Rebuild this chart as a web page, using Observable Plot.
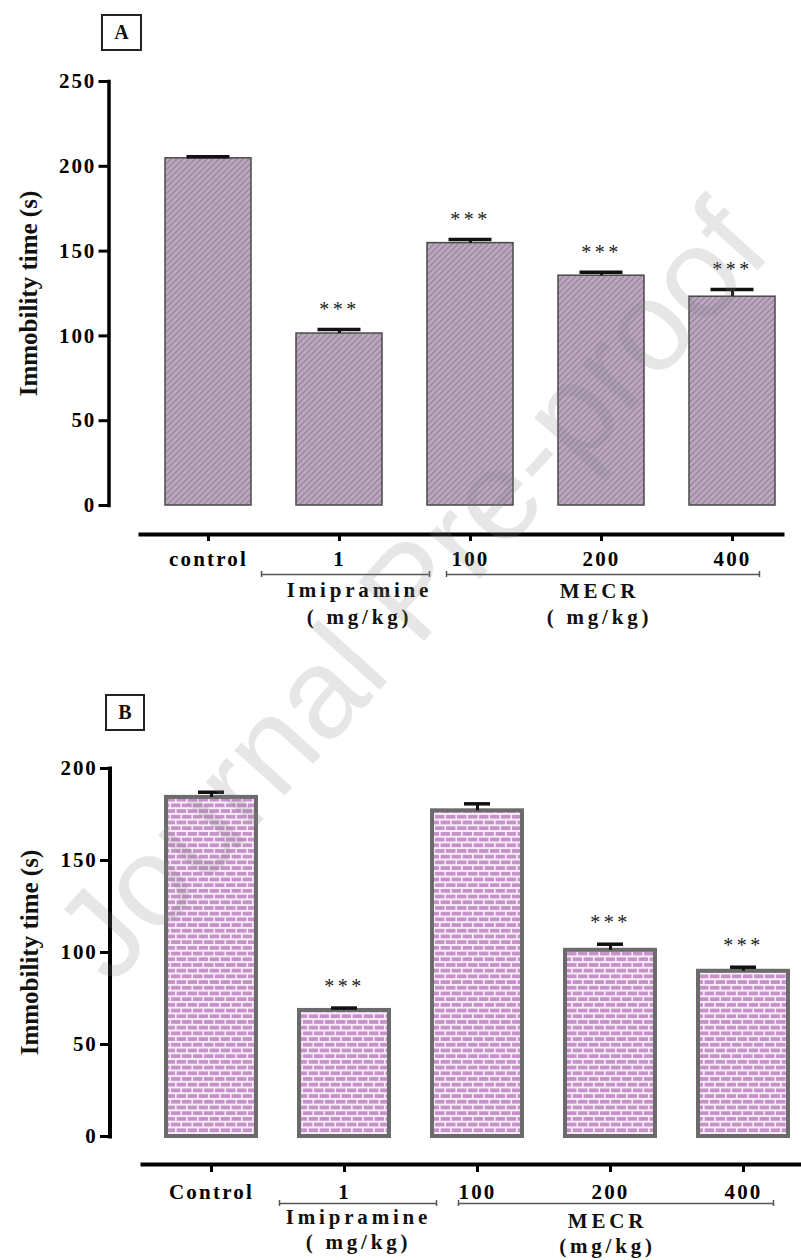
<!DOCTYPE html>
<html><head><meta charset="utf-8">
<script src="https://cdn.jsdelivr.net/npm/d3@7"></script>
<script src="https://cdn.jsdelivr.net/npm/@observablehq/plot@0.6"></script>
<style>
body{margin:0;background:#fff;}
#wrap{position:relative;width:801px;height:1260px;overflow:hidden;background:#fff;}
.panel{position:absolute;left:0;}
.tag{position:absolute;border:2px solid #222;box-sizing:border-box;display:flex;align-items:center;justify-content:center;font:bold 20px "Liberation Serif",serif;color:#111;background:#fff;}
g[aria-label="x-axis tick label"] text{letter-spacing:2.2px;}
g[aria-label="y-axis tick label"] text{letter-spacing:1.8px;}
g[aria-description="group label"] text{letter-spacing:3.8px;}
g[aria-description="significance"] text{letter-spacing:3.5px;}
#wm{position:absolute;left:0;top:0;pointer-events:none;}
</style>
</head><body>
<svg width="0" height="0" style="position:absolute">
  <defs>
    <pattern id="hatchA" patternUnits="userSpaceOnUse" width="6" height="6">
      <rect width="6" height="6" fill="#bba7be"/>
      <path d="M-1,1 l2,-2 M0,6 l6,-6 M5,7 l2,-2" stroke="#9d87a1" stroke-width="1.5"/>
    </pattern>
    <pattern id="brickB" patternUnits="userSpaceOnUse" width="11" height="11.4">
      <rect width="11" height="11.4" fill="#fbeefb"/>
      <rect x="0.6" y="1" width="9.4" height="3.7" fill="#c592c8"/>
      <rect x="-5" y="6.7" width="9.5" height="3.7" fill="#c592c8"/>
      <rect x="6" y="6.7" width="9.5" height="3.7" fill="#c592c8"/>
    </pattern>
  </defs>
</svg>
<div id="wrap">
  <div id="pA" class="panel" style="top:0"></div>
  <div id="pB" class="panel" style="top:660px"></div>
  <div class="tag" style="left:101px;top:14px;width:41px;height:37px">A</div>
  <div class="tag" style="left:105px;top:694px;width:40px;height:37px">B</div>
  <svg id="wm" width="801" height="1260">
    <text x="410" y="590" transform="rotate(-48 410 590)" text-anchor="middle" dominant-baseline="central"
      font-family="Liberation Sans, Arial, sans-serif" font-size="128" fill="#808080" fill-opacity="0.2">Journal Pre-proof</text>
  </svg>
</div>
<script>
// ---- Data: Panel A (forced swim test) ----
const groupsA = ["control", "1", "100", "200", "400"];
const meanA = [204.7, 101.4, 154.7, 135.5, 123.1];
const semA = [1.0, 2.3, 2.1, 2.1, 4.2];
const sigA = ["", "***", "***", "***", "***"];
const yTicksA = [0, 50, 100, 150, 200, 250];
const treatA = [
  {name: "Imipramine", unit: "( mg/kg)", first: "1", last: "1", anchor: "1"},
  {name: "MECR", unit: "( mg/kg)", first: "100", last: "400", anchor: "200"}
];

// ---- Data: Panel B (tail suspension test) ----
const groupsB = ["Control", "1", "100", "200", "400"];
const meanB = [184.3, 68.5, 177.0, 101.2, 89.8];
const semB = [2.8, 1.3, 3.8, 3.3, 2.2];
const sigB = ["", "***", "", "***", "***"];
const yTicksB = [0, 50, 100, 150, 200];
const treatB = [
  {name: "Imipramine", unit: "( mg/kg)", first: "1", last: "1", anchor: "1"},
  {name: "MECR", unit: "(mg/kg)", first: "100", last: "400", anchor: "200"}
];

const yTitle = "Immobility time (s)";

// ---- Layout (styles / positions only) ----
const layoutA = {
  height: 660, marginTop: 81, marginLeft: 108.5, marginRight: 19, marginBottom: 126,
  yDomain: [0, 250], yRange: [505, 81], xRange: [120, 820], padding: 0.3435,
  axisWidth: 3.5, axisGap: 29, xLineInset: 31.5, yTickSize: 10, yTickPadding: 3,
  xTickSize: 7, xTickPadding: 10, barStroke: "#4a4a4a", barStrokeWidth: 1.5,
  fill: "url(#hatchA)", capInset: 21.5, starDy: -13.5, bracketDy: 69, yTitleDx: -80,
  labelSize: 21,
  brackets: [{left: -78, right: 90, labelDx: 20, dy1: 91, dy2: 118},
             {left: -24, right: 27, labelDx: -2, dy1: 92, dy2: 118}]
};
const layoutB = {
  height: 600, marginTop: 108, marginLeft: 109.5, marginRight: 1, marginBottom: 96,
  yDomain: [0, 200], yRange: [476, 108], xRange: [121.7, 831.5], padding: 0.325,
  axisWidth: 4, axisGap: 28, xLineInset: 32.5, yTickSize: 9.5, yTickPadding: 3,
  xTickSize: 8, xTickPadding: 12, barStroke: "#6b6b6b", barStrokeWidth: 4,
  fill: "url(#brickB)", capInset: 32, starDy: -15, bracketDy: 67, yTitleDx: -80,
  labelSize: 21,
  brackets: [{left: -65, right: 92, labelDx: 14, dy1: 87, dy2: 112},
             {left: -19, right: 30, labelDx: -3, dy1: 91, dy2: 116}]
};

function panel(groups, mean, sem, sig, yTicks, treat, L) {
  const data = groups.map((g, i) => ({group: g, mean: mean[i], sem: sem[i], sig: sig[i]}));
  const n = groups.length;
  const step = (L.xRange[1] - L.xRange[0]) / (n + L.padding);
  const bw = step * (1 - L.padding);
  const yMid = (L.yDomain[0] + L.yDomain[1]) / 2;
  const marks = [
    Plot.barY(data, {x: "group", y: "mean", fill: L.fill, stroke: L.barStroke, strokeWidth: L.barStrokeWidth}),
    Plot.ruleX(data, {x: "group", y1: "mean", y2: d => d.mean + d.sem, stroke: "#111", strokeWidth: 3}),
    Plot.tickY(data, {x: "group", y: d => d.mean + d.sem, stroke: "#111", strokeWidth: 3.5, inset: L.capInset}),
    Plot.text(data.filter(d => d.sig), {x: "group", y: d => d.mean + d.sem, text: "sig", dy: L.starDy,
      lineAnchor: "bottom", fontSize: 20, fontWeight: "normal", fill: "#222", ariaDescription: "significance"}),
    Plot.frame({anchor: "left", stroke: "#000", strokeWidth: L.axisWidth, insetBottom: L.axisGap, strokeLinecap: "square"}),
    Plot.frame({anchor: "bottom", stroke: "#000", strokeWidth: 4, insetLeft: L.xLineInset}),
    Plot.axisY(yTicks, {anchor: "left", tickSize: L.yTickSize, tickPadding: L.yTickPadding, strokeWidth: 3,
      fontSize: 21, fontWeight: "bold", label: null, tickFormat: d => String(d)}),
    Plot.axisX({anchor: "bottom", tickSize: L.xTickSize, tickPadding: L.xTickPadding, strokeWidth: 3,
      fontSize: 21, fontWeight: "bold", label: null}),
    Plot.text([yTitle], {y: () => yMid, frameAnchor: "left", dx: L.yTitleDx, rotate: -90, text: d => d,
      fontSize: 25, fontWeight: "bold", lineAnchor: "middle", textAnchor: "middle", fill: "#111"})
  ];
  treat.forEach((t, i) => {
    const b = L.brackets[i];
    marks.push(
      Plot.ruleY([t], {x1: "first", x2: "last", y: () => 0, dy: L.bracketDy,
        insetLeft: b.left + bw / 2, insetRight: bw / 2 - b.right, stroke: "#555", strokeWidth: 1.5}),
      Plot.ruleX([t], {x: "first", y1: () => 0, y2: () => 0, dx: b.left, dy: L.bracketDy,
        insetTop: -3, insetBottom: -3, stroke: "#555", strokeWidth: 1.5}),
      Plot.ruleX([t], {x: "last", y1: () => 0, y2: () => 0, dx: b.right, dy: L.bracketDy,
        insetTop: -3, insetBottom: -3, stroke: "#555", strokeWidth: 1.5}),
      Plot.text([t], {x: "anchor", y: () => 0, text: "name", dx: b.labelDx, dy: b.dy1, lineAnchor: "bottom",
        fontSize: L.labelSize, fontWeight: "bold", fill: "#111", ariaDescription: "group label"}),
      Plot.text([t], {x: "anchor", y: () => 0, text: "unit", dx: b.labelDx, dy: b.dy2, lineAnchor: "bottom",
        fontSize: L.labelSize, fontWeight: "bold", fill: "#111", ariaDescription: "group label"})
    );
  });
  return Plot.plot({
    width: 801, height: L.height,
    marginTop: L.marginTop, marginLeft: L.marginLeft, marginRight: L.marginRight, marginBottom: L.marginBottom,
    style: {fontFamily: "'Liberation Serif', 'Times New Roman', serif", fontWeight: "bold", color: "#000", background: "transparent"},
    x: {type: "band", domain: groups, range: L.xRange, padding: L.padding, axis: null, label: null},
    y: {domain: L.yDomain, range: L.yRange, axis: null, label: null},
    marks
  });
}

document.getElementById("pA").appendChild(panel(groupsA, meanA, semA, sigA, yTicksA, treatA, layoutA));
document.getElementById("pB").appendChild(panel(groupsB, meanB, semB, sigB, yTicksB, treatB, layoutB));
</script>
</body></html>
